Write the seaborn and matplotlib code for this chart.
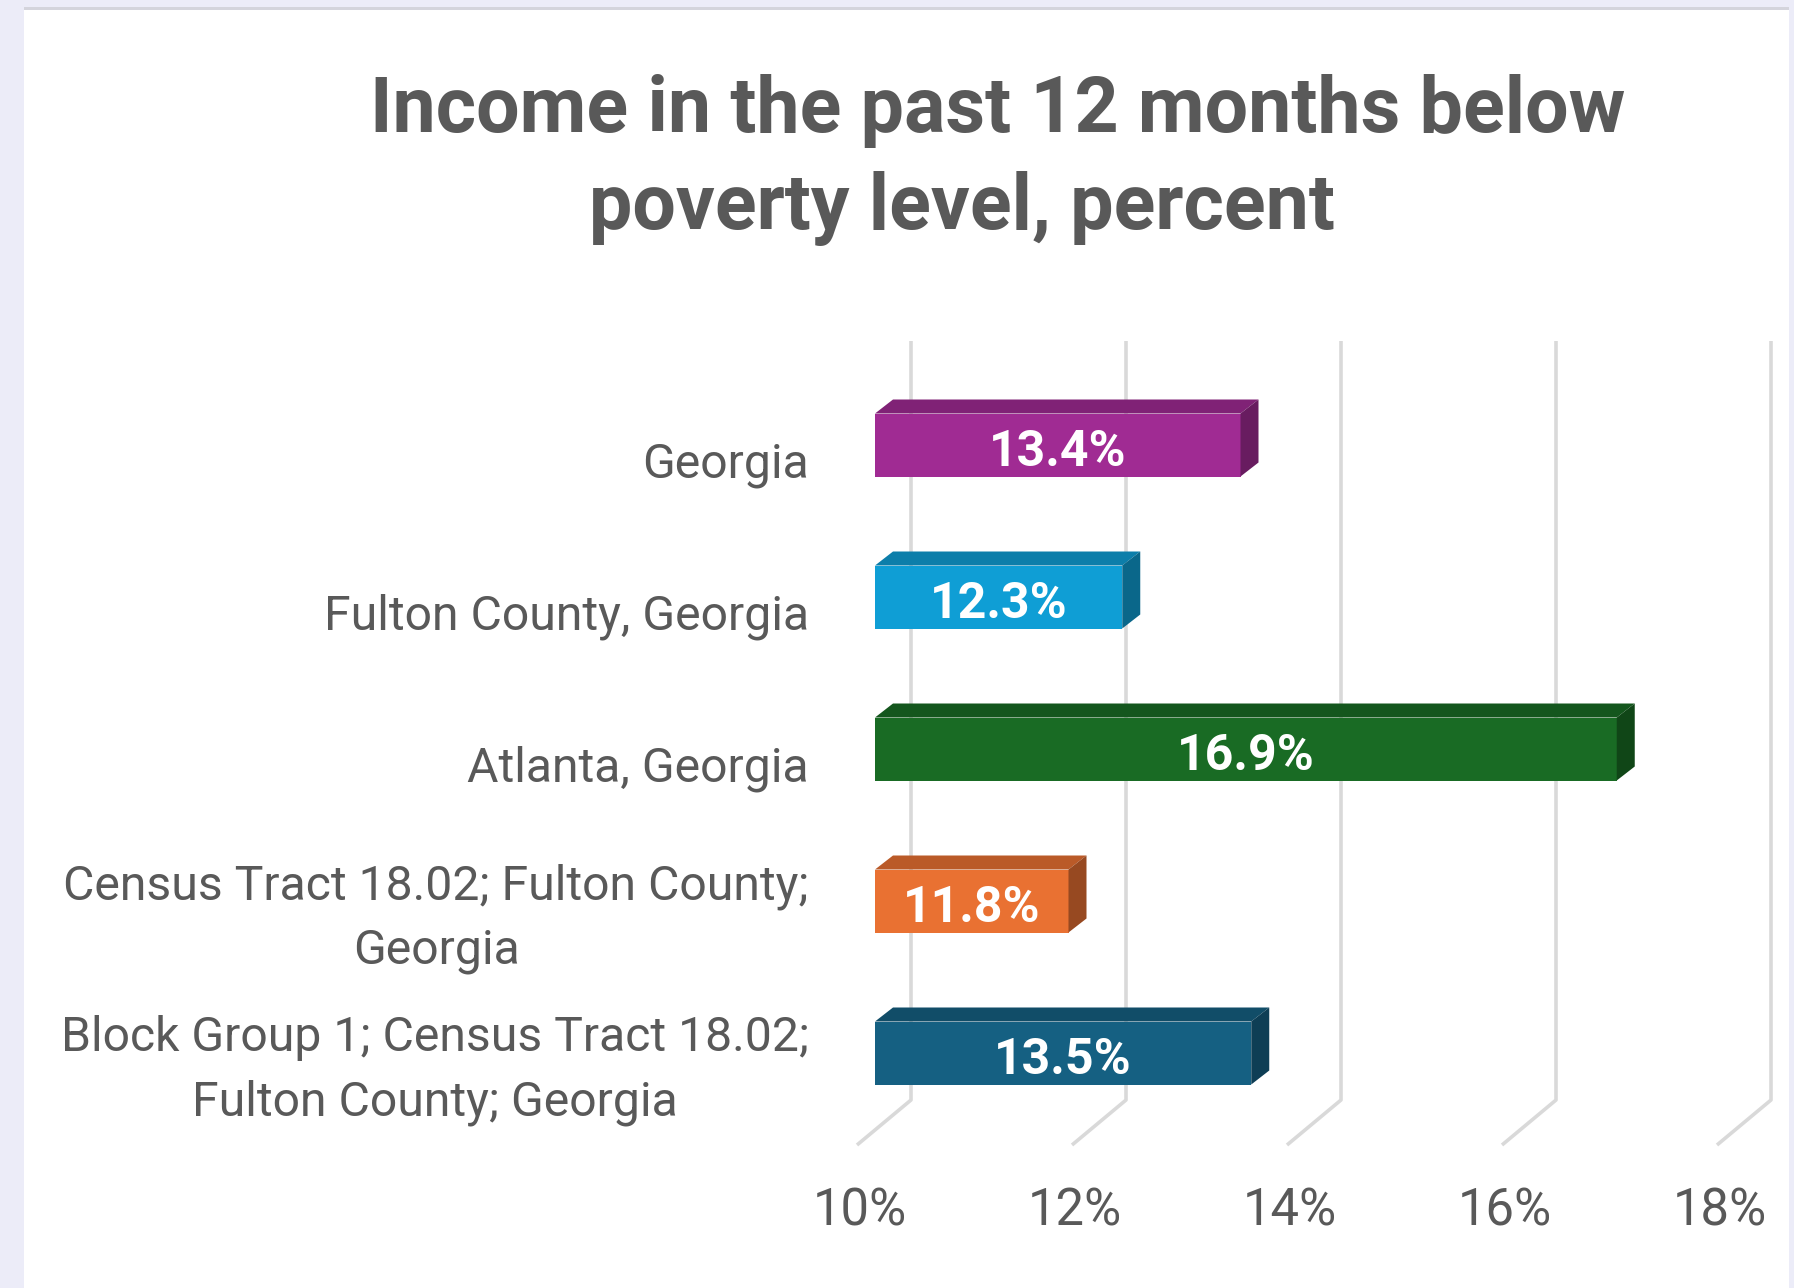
import numpy as np
import pandas as pd
import seaborn as sns
import matplotlib.pyplot as plt
import matplotlib.colors as mcolors
from matplotlib.patches import Polygon, Rectangle

# chart data
categories = [
    "Georgia",
    "Fulton County, Georgia",
    "Atlanta, Georgia",
    "Census Tract 18.02; Fulton County;\nGeorgia",
    "Block Group 1; Census Tract 18.02;\nFulton County; Georgia",
]
values = [13.4, 12.3, 16.9, 11.8, 13.5]
bar_colors = ["#A02B93", "#0F9ED5", "#196B24", "#E97132", "#156082"]
tick_values = [10, 12, 14, 16, 18]
tick_labels = ["10%", "12%", "14%", "16%", "18%"]
title_lines = ["Income in the past 12 months below", "poverty level, percent"]

W, H = 1794, 1288
X10 = 875          # pixel of 10% on the bar front plane
PPU = 107.5        # pixels per percent
Y0, DY = 445, 152  # first category centre / spacing in pixels
L, R, T, B = 820, 1790, 300, 1288

TEXT = "#595959"
GRID = "#D9D9D9"

sns.set_theme(style="white")
plt.rcParams['font.family'] = ['Roboto', 'DejaVu Sans']

fig = plt.figure(figsize=(W / 100, H / 100), dpi=100)
fig.patch.set_facecolor("#ECECF8")
# white chart panel with grey top edge
fig.patches.append(Rectangle((24 / W, 0), (1789 - 24) / W, (H - 10) / H,
                             transform=fig.transFigure, facecolor="white",
                             edgecolor="none", zorder=-2))
fig.patches.append(Rectangle((24 / W, (H - 10) / H), (1789 - 24) / W, 3 / H,
                             transform=fig.transFigure, facecolor="#D4D4DC",
                             edgecolor="none", zorder=-2))

ax = fig.add_axes([L / W, 1 - B / H, (R - L) / W, (B - T) / H])
ax.patch.set_alpha(0)

def ypix(p):
    return (p - Y0) / DY

df = pd.DataFrame({"place": categories, "pct": values})
sns.barplot(data=df, x="pct", y="place", hue="place", palette=bar_colors,
            orient="h", width=63 / DY, legend=False, saturation=1,
            ax=ax, zorder=3)

ax.set_xlim(10 + (L - X10) / PPU, 10 + (R - X10) / PPU)
ax.set_ylim(ypix(B), ypix(T))

# bars start at the axis minimum (10%), then a top and a side face
ddx = 18 / PPU
ddy = 14 / DY
for i, (bar, v, c) in enumerate(zip(ax.patches, values, bar_colors)):
    bar.set_x(10)
    bar.set_width(v - 10)
    bar.set_edgecolor("none")
    top = bar.get_y()
    bot = top + bar.get_height()
    rgb = np.array(mcolors.to_rgb(c))
    ax.add_patch(Polygon([(10, top), (v, top), (v + ddx, top - ddy), (10 + ddx, top - ddy)],
                         closed=True, facecolor=rgb * 0.8, edgecolor="none", zorder=3))
    ax.add_patch(Polygon([(v, top), (v + ddx, top - ddy), (v + ddx, bot - ddy), (v, bot)],
                         closed=True, facecolor=rgb * 0.65, edgecolor="none", zorder=3))
    ax.text(10 + (v - 10) / 2, i + 7 / DY, f"{v}%", ha="center", va="center",
            color="white", fontsize=36, fontweight="bold", zorder=5)

# back wall grid lines and floor diagonals
for v in tick_values:
    xb = v + 36 / PPU
    ax.plot([xb, xb, xb - 54 / PPU], [ypix(341), ypix(1100), ypix(1145)],
            color=GRID, lw=2.6, zorder=1, solid_capstyle="butt", clip_on=False)

for v, lab in zip(tick_values, tick_labels):
    ax.text(v + (860 - X10) / PPU, ypix(1212), lab, ha="center", va="center",
            color=TEXT, fontsize=36.5, clip_on=False)

ax.set_xticks([])
label_pos = [i + (3 if "\n" in c else 15) / DY for i, c in enumerate(categories)]
ax.set_yticks(label_pos, labels=categories)
ax.tick_params(axis="y", length=0, pad=8, labelsize=34.7, labelcolor=TEXT)
for t in ax.get_yticklabels():
    t.set_multialignment("center")
    t.set_linespacing(1.5)
ax.set_xlabel("")
ax.set_ylabel("")
sns.despine(ax=ax, left=True, bottom=True)

fig.text(998 / W, 1 - 132 / H, title_lines[0], ha="center", va="baseline",
         fontsize=55.5, fontweight="bold", color=TEXT)
fig.text(962 / W, 1 - 229 / H, title_lines[1], ha="center", va="baseline",
         fontsize=55.5, fontweight="bold", color=TEXT)

fig.savefig("out.png", dpi=100, facecolor=fig.get_facecolor())
